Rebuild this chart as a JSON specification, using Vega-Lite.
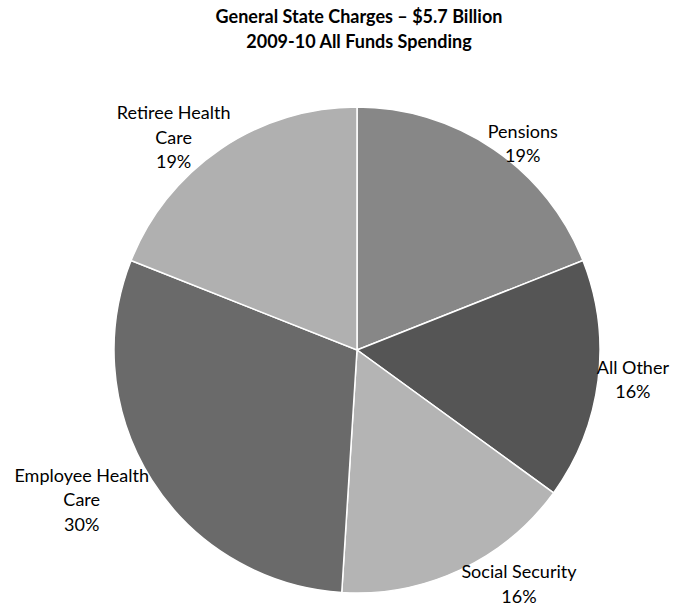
{
  "$schema": "https://vega.github.io/schema/vega-lite/v6.json",
  "width": 656,
  "height": 518,
  "autosize": {"type": "none"},
  "padding": {"left": 29, "top": 91, "right": 0, "bottom": 0},
  "background": "white",
  "title": {
    "text": ["General State Charges  – $5.7 Billion", "2009-10 All Funds Spending"],
    "font": "Lato",
    "fontSize": 18,
    "fontWeight": "bold",
    "color": "black",
    "lineHeight": 25,
    "anchor": "middle",
    "dx": 2,
    "offset": 7
  },
  "config": {"view": {"stroke": null}},
  "data": {
    "values": [
      {"category": "Pensions", "value": 19, "order": 1, "label": "Pensions\n19%"},
      {"category": "All Other", "value": 16, "order": 2, "label": "All Other\n16%"},
      {"category": "Social Security", "value": 16, "order": 3, "label": "Social Security\n16%"},
      {"category": "Employee Health Care", "value": 30, "order": 4, "label": "Employee Health\nCare\n30%"},
      {"category": "Retiree Health Care", "value": 19, "order": 5, "label": "Retiree Health\nCare\n19%"}
    ]
  },
  "encoding": {
    "theta": {"field": "value", "type": "quantitative", "stack": true},
    "order": {"field": "order", "type": "quantitative"}
  },
  "layer": [
    {
      "mark": {"type": "arc", "outerRadius": 243, "stroke": "white", "strokeWidth": 1.5},
      "encoding": {
        "color": {
          "field": "category",
          "type": "nominal",
          "legend": null,
          "scale": {
            "domain": ["Pensions", "All Other", "Social Security", "Employee Health Care", "Retiree Health Care"],
            "range": ["#878787", "#555555", "#b4b4b4", "#6a6a6a", "#b0b0b0"]
          }
        }
      }
    },
    {
      "mark": {"type": "text", "radius": 270, "dx": 14, "dy": 6, "font": "Lato", "fontSize": 18, "lineHeight": 24.5, "lineBreak": "\n", "align": "center", "baseline": "middle", "color": "black"},
      "encoding": {"text": {"field": "label"}, "opacity": {"condition": {"test": "datum.category === 'Pensions'", "value": 1}, "value": 0}}
    },
    {
      "mark": {"type": "text", "radius": 270, "dx": 8, "dy": -15, "font": "Lato", "fontSize": 18, "lineHeight": 24.5, "lineBreak": "\n", "align": "center", "baseline": "middle", "color": "black"},
      "encoding": {"text": {"field": "label"}, "opacity": {"condition": {"test": "datum.category === 'All Other'", "value": 1}, "value": 0}}
    },
    {
      "mark": {"type": "text", "radius": 270, "dx": 47, "dy": -21, "font": "Lato", "fontSize": 18, "lineHeight": 24.5, "lineBreak": "\n", "align": "center", "baseline": "middle", "color": "black"},
      "encoding": {"text": {"field": "label"}, "opacity": {"condition": {"test": "datum.category === 'Social Security'", "value": 1}, "value": 0}}
    },
    {
      "mark": {"type": "text", "radius": 300, "dx": -22, "dy": -34, "font": "Lato", "fontSize": 18, "lineHeight": 24.5, "lineBreak": "\n", "align": "center", "baseline": "middle", "color": "black"},
      "encoding": {"text": {"field": "label"}, "opacity": {"condition": {"test": "datum.category === 'Employee Health Care'", "value": 1}, "value": 0}}
    },
    {
      "mark": {"type": "text", "radius": 280, "dx": -26, "dy": -4, "font": "Lato", "fontSize": 18, "lineHeight": 24.5, "lineBreak": "\n", "align": "center", "baseline": "middle", "color": "black"},
      "encoding": {"text": {"field": "label"}, "opacity": {"condition": {"test": "datum.category === 'Retiree Health Care'", "value": 1}, "value": 0}}
    }
  ]
}
